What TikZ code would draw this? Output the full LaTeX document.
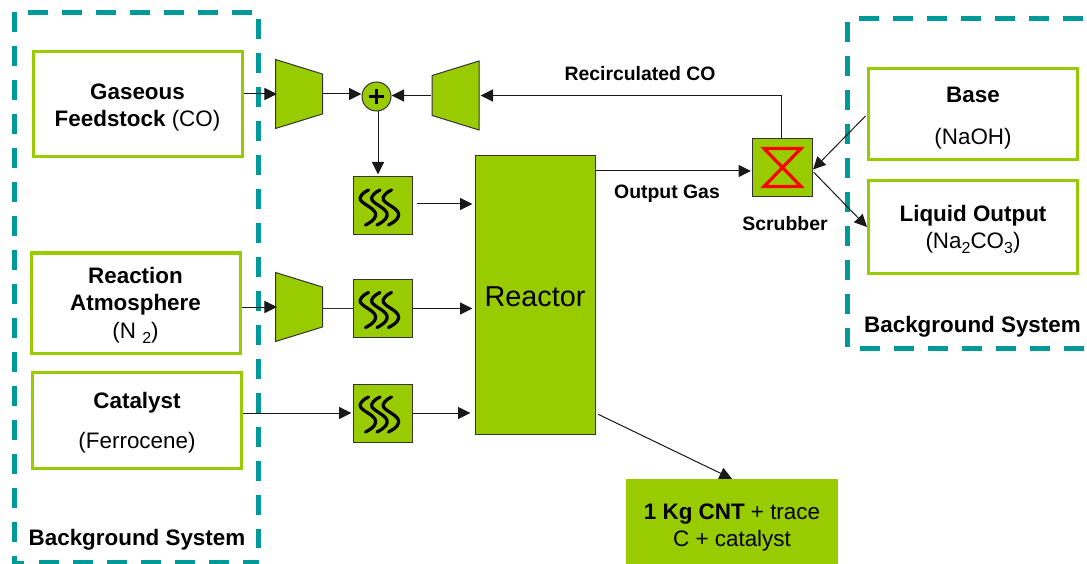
\documentclass[tikz,border=0pt]{standalone}
\usepackage{fontspec}
\setmainfont{Liberation Sans}
\usetikzlibrary{arrows.meta,shapes.geometric}
\definecolor{leaf}{HTML}{99CC00}
\definecolor{teal}{HTML}{009999}
\tikzset{
    inputbox/.style={draw=leaf, line width=3pt, fill=white, align=center, font=\fontsize{22.4}{27}\selectfont, inner sep=0pt},
    unitbox/.style={draw=black!80, fill=leaf, line width=1pt, inner sep=0pt, minimum width=59pt, minimum height=58pt},
    compleft/.style={trapezium, draw=black!80, fill=leaf, line width=1pt, inner sep=1pt, shape border rotate=270, trapezium angle=70, trapezium stretches=true, minimum height=47pt, minimum width=69pt},
    compright/.style={compleft, shape border rotate=90},
    flow/.style={draw=black!90, line width=1pt, -{Triangle[length=12.5pt,width=12pt]}},
    bgdash/.style={draw=teal, line width=5pt, dash pattern=on 20pt off 14pt},
    tag/.style={font=\fontsize{19.4}{22}\selectfont\bfseries},
    bgtag/.style={font=\fontsize{22.4}{24}\selectfont\bfseries}
}
\newcommand{\topgap}{\rule{0pt}{22pt}}
\newcommand{\lowsub}[1]{\raisebox{-5pt}{\fontsize{16}{16}\selectfont #1}}
\newcommand{\heatwaves}[1]{%
    \begin{scope}[shift={(#1.center)}]
    \foreach \dx in {0,11.5,23} {
        \draw[line width=3.2pt, line cap=round, xshift=\dx pt] (-14,-16) .. controls (-19,-14) and (-24,-9) .. (-22,-6) .. controls (-19,-1) and (-5,3) .. (-7,10) .. controls (-8,14) and (-13,17) .. (-17,19);
    }
    \end{scope}
}
\begin{document}
\begin{tikzpicture}[x=1pt,y=-1pt]
    \useasboundingbox (0,0) rectangle (1087,564);

    % Background systems
    \draw[bgdash] (28,12.5) -- (252,12.5) (14.5,12) -- (14.5,563) -- (24,563) (258.5,19) -- (258.5,548) (39,562.5) -- (259,562.5);
    \draw[bgdash] (859,18.5) -- (1087,18.5) (847.5,22) -- (847.5,347) (860,348) -- (1087,348);
    \node[bgtag] (bgleft) at (137,540) {Background System};
    \node[bgtag] (bgright) at (972.5,326.5) {Background System};

    % Inputs
    \node[inputbox, minimum width=209pt, minimum height=105pt] (gaseous) at (137.5,104.5) {\topgap\textbf{Gaseous}\\\textbf{Feedstock} (CO)};
    \node[inputbox, minimum width=209pt, minimum height=100pt] (atmosphere) at (135.5,303) {\rule{0pt}{20pt}\textbf{Reaction}\\\textbf{Atmosphere}\\[1pt](N \lowsub{2})};
    \node[inputbox, minimum width=209pt, minimum height=96pt] (catalyst) at (137,420) {\topgap\textbf{Catalyst}\\[13pt](Ferrocene)};
    \node[inputbox, minimum width=209pt, minimum height=91pt] (base) at (973,114.5) {\topgap\textbf{Base}\\[15pt](NaOH)};
    \node[inputbox, minimum width=209pt, minimum height=92pt] (liquid) at (973,227) {\topgap\textbf{Liquid Output}\\(Na\lowsub{2}CO\lowsub{3})};

    % Compressors and mixer
    \node[compleft] (compco) at (299,94) {};
    \node[compright] (comprecycle) at (455.5,95.5) {};
    \node[compleft] (compnitrogen) at (299,307) {};
    \node[circle, draw=black!80, fill=leaf, line width=1pt, minimum size=29pt, inner sep=0pt] (mixer) at (376.5,96.5) {};
    \draw[line width=2.6pt] ([xshift=-7.5pt]mixer.center) -- ([xshift=7.5pt]mixer.center) ([yshift=-7.5pt]mixer.center) -- ([yshift=7.5pt]mixer.center);

    % Heaters
    \node[unitbox] (heatco) at (382.5,206) {};
    \node[unitbox] (heatnitrogen) at (382.5,308.5) {};
    \node[unitbox] (heatcatalyst) at (382.5,413) {};
    \heatwaves{heatco}
    \heatwaves{heatnitrogen}
    \heatwaves{heatcatalyst}

    % Reactor
    \node[draw=black!80, fill=leaf, line width=1pt, minimum width=120pt, minimum height=278pt, inner sep=0pt, font=\fontsize{28.8}{30}\selectfont] (reactor) at (535,295) {\rule{0pt}{24pt}Reactor};

    % Scrubber
    \node[unitbox, minimum width=60pt] (scrubber) at (782.5,167.5) {};
    \draw[red, line width=3.2pt, line join=miter] ([shift={(-18.5pt,19pt)}]scrubber.center) -- ([shift={(18.5pt,19pt)}]scrubber.center) -- ([shift={(-18.5pt,-19pt)}]scrubber.center) -- ([shift={(18.5pt,-19pt)}]scrubber.center) -- cycle;
    \node[tag] (scrubbertag) at (785,224) {Scrubber};

    % Product
    \node[fill=leaf, minimum width=212pt, minimum height=85pt, inner sep=0pt, align=center, font=\fontsize{22.4}{27}\selectfont] (product) at (732,521.5) {\rule{0pt}{28pt}\textbf{1 Kg CNT} + trace\\C + catalyst};

    % Flows
    \draw[flow, shorten >=-2pt] (gaseous.east |- compco.west) -- (compco.west);
    \draw[flow] (compco.east) -- (compco.east -| mixer.west);
    \draw[flow] (comprecycle.west) -- (comprecycle.west -| mixer.east);
    \draw[flow, shorten >=2pt] ([xshift=1.5pt]mixer.south) -- ([xshift=1.5pt]mixer.south |- heatco.north);
    \draw[flow, shorten <=4pt, shorten >=2pt] ([yshift=2pt]heatco.east) -- ([yshift=2pt]heatco.east -| reactor.west);
    \draw[flow, shorten >=-2pt] (atmosphere.east |- compnitrogen.west) -- (compnitrogen.west);
    \draw[draw=black!80, line width=1pt] (compnitrogen.east |- heatnitrogen.west) -- (heatnitrogen.west);
    \draw[flow, shorten >=2pt] (heatnitrogen.east) -- (heatnitrogen.east -| reactor.west);
    \draw[flow, shorten >=1pt] (catalyst.east |- heatcatalyst.west) -- (heatcatalyst.west);
    \draw[flow, shorten >=4pt] (heatcatalyst.east) -- (heatcatalyst.east -| reactor.west);
    \draw[flow, shorten >=1pt] ([xshift=-1.5pt]scrubber.north) |- (comprecycle.east);
    \draw[flow, shorten >=1pt] (reactor.east |- 0,171) -- (scrubber.west |- 0,171);
    \draw[flow, shorten <=2pt] (base.west) -- ([yshift=-2pt]scrubber.east);
    \draw[flow, shorten <=1pt] ([yshift=-4pt]scrubber.east) -- (liquid.west);
    \draw[flow, shorten <=3pt] (reactor.east |- heatcatalyst.east) -- (product.north);

    % Flow labels
    \node[tag] (recycletag) at (640,74) {Recirculated CO};
    \node[tag] (outgastag) at (667,194) {Output Gas};
\end{tikzpicture}
\end{document}
